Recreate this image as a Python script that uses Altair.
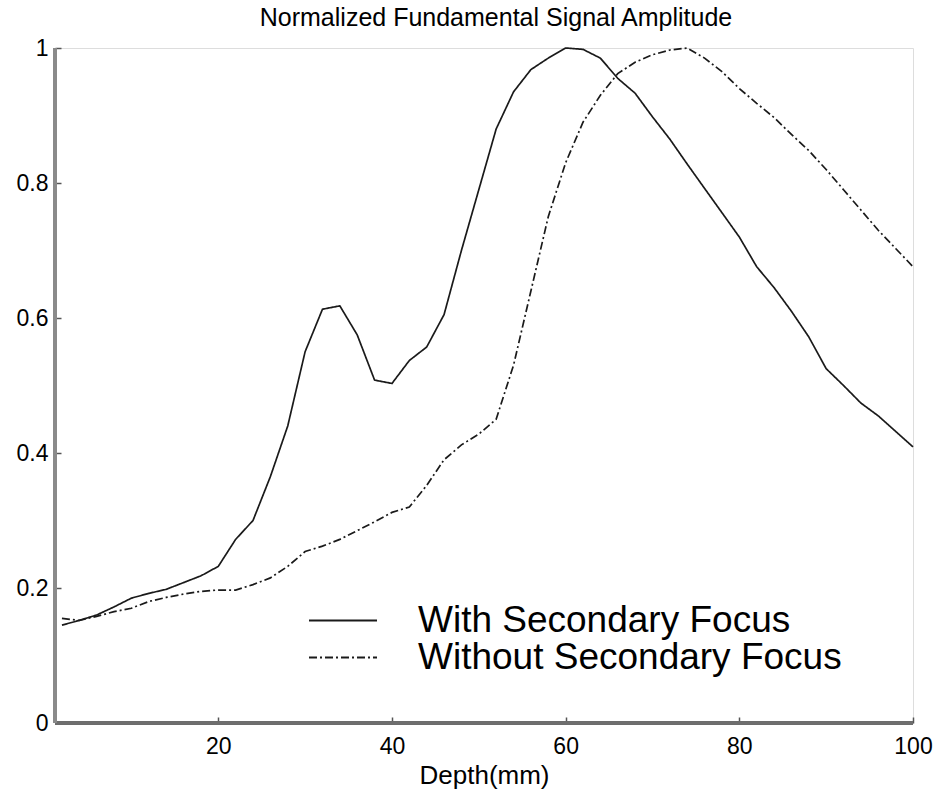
import altair as alt
import pandas as pd

# ---- data ----
depth = [2, 4, 6, 8, 10, 12, 14, 16, 18, 20,
         22, 24, 26, 28, 30, 32, 34, 36, 38, 40,
         42, 44, 46, 48, 50, 52, 54, 56, 58, 60,
         62, 64, 66, 68, 70, 72, 74, 76, 78, 80,
         82, 84, 86, 88, 90, 92, 94, 96, 98, 100]

with_focus = [0.145, 0.152, 0.160, 0.172, 0.185, 0.192, 0.198, 0.208, 0.218, 0.232,
              0.272, 0.300, 0.365, 0.440, 0.550, 0.613, 0.618, 0.575, 0.508, 0.503,
              0.537, 0.557, 0.605, 0.700, 0.790, 0.880, 0.935, 0.968, 0.985, 1.000,
              0.998, 0.985, 0.955, 0.933, 0.898, 0.865, 0.828, 0.792, 0.756, 0.720,
              0.676, 0.645, 0.610, 0.572, 0.525, 0.500, 0.474, 0.455, 0.432, 0.409]

without_focus = [0.155, 0.152, 0.158, 0.165, 0.170, 0.180, 0.186, 0.191, 0.195, 0.197,
                 0.197, 0.205, 0.215, 0.232, 0.254, 0.262, 0.272, 0.285, 0.298, 0.312,
                 0.320, 0.352, 0.390, 0.412, 0.428, 0.450, 0.530, 0.640, 0.750, 0.830,
                 0.890, 0.930, 0.962, 0.979, 0.990, 0.997, 1.000, 0.985, 0.965, 0.940,
                 0.918, 0.897, 0.872, 0.848, 0.820, 0.790, 0.760, 0.730, 0.703, 0.676]

series_names = ["With Secondary Focus", "Without Secondary Focus"]
x_ticks = [20, 40, 60, 80, 100]
y_ticks = [0, 0.2, 0.4, 0.6, 0.8, 1]
x_domain = [1.2, 100]
y_domain = [0, 1]

title_text = "Normalized Fundamental Signal Amplitude"
x_title = "Depth(mm)"

# ---- layout ----
W, H = 858, 675
FONT = "Liberation Sans"

df = pd.DataFrame({
    "Depth": depth + depth,
    "Amplitude": with_focus + without_focus,
    "Series": [series_names[0]] * len(depth) + [series_names[1]] * len(depth),
})

x_scale = alt.Scale(domain=x_domain, nice=False, zero=False)
y_scale = alt.Scale(domain=y_domain, nice=False, zero=False)

lines = alt.Chart(df).mark_line(color="#1a1a1a", strokeWidth=1.7).encode(
    x=alt.X("Depth:Q", scale=x_scale,
            axis=alt.Axis(values=x_ticks, title=x_title, offset=-6, tickSize=6,
                          domain=False, grid=False, labelPadding=12,
                          labelFontSize=23, labelFont=FONT, labelColor="black",
                          tickColor="#555", tickWidth=1.5,
                          titleFont=FONT, titleFontSize=26, titleFontWeight="normal",
                          titleColor="black", titlePadding=4, labelFlush=False)),
    y=alt.Y("Amplitude:Q", scale=y_scale,
            axis=alt.Axis(values=y_ticks, title=None, offset=-6, tickSize=6,
                          domain=False, grid=False, labelPadding=7, format="~g",
                          labelFontSize=23, labelFont=FONT, labelColor="black",
                          tickColor="#555", tickWidth=1.5, labelFlush=False)),
    strokeDash=alt.StrokeDash(
        "Series:N",
        scale=alt.Scale(domain=series_names, range=[[1, 0], [8, 3, 2, 3]]),
        legend=alt.Legend(orient="none", legendX=269.5, legendY=554, title=None,
                          symbolType="M-4,0H4", symbolSize=289, symbolStrokeWidth=2,
                          symbolStrokeColor="#1a1a1a", symbolOffset=0,
                          labelOffset=56.5, labelFontSize=37, labelFont=FONT,
                          labelColor="black", labelLimit=1000, rowPadding=-4,
                          padding=0)),
    detail="Series:N",
)

x_domain_line = alt.Chart(df).mark_rule(color="#6e6e6e", strokeWidth=2.5).encode(
    x=alt.value(0), x2=alt.value(W), y=alt.value(H)
)
y_domain_line = alt.Chart(df).mark_rule(color="#8a8a8a", strokeWidth=3).encode(
    x=alt.value(0), y=alt.value(0), y2=alt.value(H)
)

chart = alt.layer(lines, x_domain_line, y_domain_line).properties(
    width=W, height=H,
    title=alt.TitleParams(title_text, fontSize=25, font=FONT, fontWeight="normal",
                          color="black", anchor="middle", frame="group", offset=6,
                          dx=12),
    autosize=alt.AutoSizeParams(type="none"),
    padding={"left": 55, "top": 48, "right": 27, "bottom": 73},
).configure_view(stroke=None).configure(background="white")

chart.save("out.html", embed_options={"renderer": "svg", "actions": False})
